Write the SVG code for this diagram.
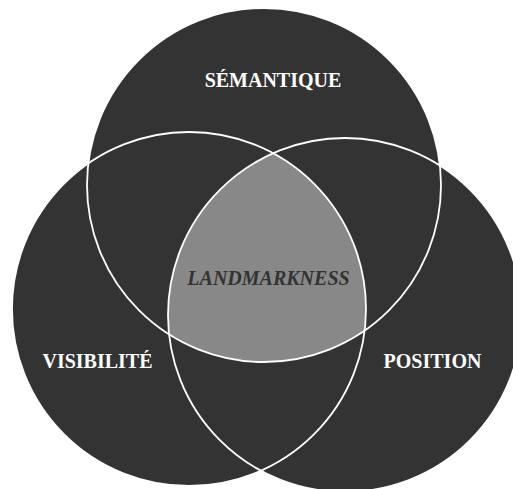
<svg xmlns="http://www.w3.org/2000/svg" width="513" height="489" viewBox="0 0 513 489">
<style>
.c{fill:#333333;stroke:none}
.o{fill:none;stroke:#ffffff;stroke-width:1.8}
.lbl{font-family:"Liberation Serif","Times New Roman",serif;font-weight:bold;font-size:20px;fill:#ffffff;text-anchor:middle}
.ctr{font-family:"Liberation Serif","Times New Roman",serif;font-weight:bold;font-style:italic;font-size:20px;fill:#333333;text-anchor:middle}
</style>
<defs>
<clipPath id="clipL"><circle cx="189" cy="309" r="177"/></clipPath>
<clipPath id="clipR"><circle cx="345" cy="315" r="177"/></clipPath>
</defs>
<rect width="513" height="489" fill="#ffffff"/>
<g id="semantique">
<circle class="c" cx="264" cy="185" r="177"/>
</g>
<g id="visibilite">
<circle class="c" cx="189" cy="309" r="177"/>
</g>
<g id="position">
<circle class="c" cx="345" cy="315" r="177"/>
</g>
<g id="landmarkness">
<g clip-path="url(#clipR)"><circle cx="264" cy="185" r="177" fill="#888888" clip-path="url(#clipL)"/></g>
</g>
<g id="outlines">
<circle class="o" cx="264" cy="185" r="177"/>
<circle class="o" cx="189" cy="309" r="177"/>
<circle class="o" cx="345" cy="315" r="177"/>
</g>
<text class="lbl" x="273" y="87">SÉMANTIQUE</text>
<text class="lbl" x="97.5" y="368">VISIBILITÉ</text>
<text class="lbl" x="432.5" y="368">POSITION</text>
<text class="ctr" x="268.5" y="285">LANDMARKNESS</text>
</svg>
